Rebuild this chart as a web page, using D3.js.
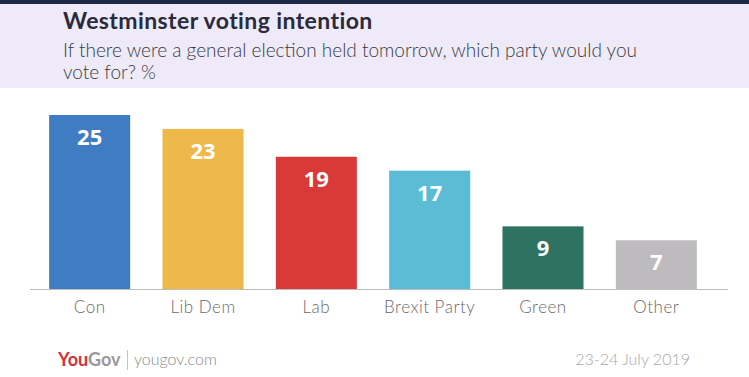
<!DOCTYPE html>
<html>
<head>
<meta charset="utf-8">
<script src="https://cdn.jsdelivr.net/npm/d3@7"></script>
<style>
  body { margin: 0; background: #fff; }
  svg { display: block; }
</style>
</head>
<body>
<script>
var width  = 749;
var height = 377;

var parties = ['Con', 'Lib Dem', 'Lab', 'Brexit Party', 'Green', 'Other'];
var shares  = [25, 23, 19, 17, 9, 7];
var colours = ['#3f7cc1', '#efb84b', '#d93a38', '#5bbcd6', '#2e7261', '#bdbbbe'];

var svg = d3.select('body').append('svg')
    .attr('width', width)
    .attr('height', height);

// header
svg.append('rect')
  .attr('x', 0).attr('y', 0)
  .attr('width', width).attr('height', 88)
  .attr('fill', '#eeeaf7');
svg.append('rect')
  .attr('x', 0).attr('y', 0)
  .attr('width', width).attr('height', 4)
  .attr('fill', '#1d2a45');

svg.append('text')
  .attr('x', 63).attr('y', 29)
  .attr('font-family', 'Lato, sans-serif')
  .attr('font-weight', 700)
  .attr('font-size', 23)
  .attr('letter-spacing', 0.4)
  .attr('fill', '#2b2a3c')
  .text('Westminster voting intention');

var sub = svg.append('text')
  .attr('font-family', 'Lato, sans-serif')
  .attr('font-weight', 300)
  .attr('font-size', 19)
  .attr('fill', '#3a3a44');
sub.append('tspan').attr('x', 63).attr('y', 57)
  .text('If there were a general election held tomorrow, which party would you');
sub.append('tspan').attr('x', 63).attr('y', 79)
  .text('vote for? %');

// chart
var x = d3.scaleBand()
  .domain(parties)
  .range([33, 713])
  .paddingInner(0.285)
  .paddingOuter(0.1425);

var y = d3.scaleLinear()
  .domain([0, 25])
  .range([289, 115]);

svg.selectAll('rect.bar')
  .data(parties)
  .enter().append('rect')
  .attr('class', 'bar')
  .attr('x', function(d) { return x(d); })
  .attr('y', function(d, i) { return y(shares[i]); })
  .attr('width', x.bandwidth())
  .attr('height', function(d, i) { return y(0) - y(shares[i]); })
  .attr('fill', function(d, i) { return colours[i]; });

svg.selectAll('text.value')
  .data(parties)
  .enter().append('text')
  .attr('class', 'value')
  .attr('x', function(d) { return x(d) + x.bandwidth() / 2; })
  .attr('y', function(d, i) { return y(shares[i]) + 30; })
  .attr('text-anchor', 'middle')
  .attr('font-family', 'Open Sans, sans-serif')
  .attr('font-weight', 700)
  .attr('font-size', 22)
  .attr('fill', '#fff')
  .text(function(d, i) { return shares[i]; });

svg.append('line')
  .attr('x1', 30).attr('x2', 728)
  .attr('y1', 289.5).attr('y2', 289.5)
  .attr('stroke', '#bdbdbd')
  .attr('stroke-width', 1);

var axis = d3.axisBottom(x).tickSize(0).tickPadding(0);
var g = svg.append('g')
  .attr('transform', 'translate(0,' + 289 + ')')
  .call(axis);
g.select('.domain').remove();
g.selectAll('text')
  .attr('dy', null)
  .attr('y', 24)
  .attr('font-family', 'Lato, sans-serif')
  .attr('font-weight', 300)
  .attr('font-size', 17)
  .attr('letter-spacing', 0.5)
  .attr('fill', '#6a6a6a');

// footer
var logo = svg.append('text')
  .attr('x', 58).attr('y', 366)
  .attr('font-family', 'Lato, sans-serif')
  .attr('font-weight', 700)
  .attr('font-size', 18);
logo.append('tspan').attr('fill', '#d6313a').text('You');
logo.append('tspan').attr('fill', '#9a9a9a').text('Gov');

svg.append('line')
  .attr('x1', 127.5).attr('x2', 127.5)
  .attr('y1', 350).attr('y2', 370)
  .attr('stroke', '#c4c4c4');

svg.append('text')
  .attr('x', 134).attr('y', 365)
  .attr('font-family', 'Lato, sans-serif')
  .attr('font-weight', 300)
  .attr('font-size', 16)
  .attr('fill', '#8a8a8a')
  .text('yougov.com');

svg.append('text')
  .attr('x', 690).attr('y', 365)
  .attr('text-anchor', 'end')
  .attr('font-family', 'Lato, sans-serif')
  .attr('font-weight', 300)
  .attr('font-size', 16)
  .attr('fill', '#a8a8a8')
  .text('23-24 July 2019');
</script>
</body>
</html>
